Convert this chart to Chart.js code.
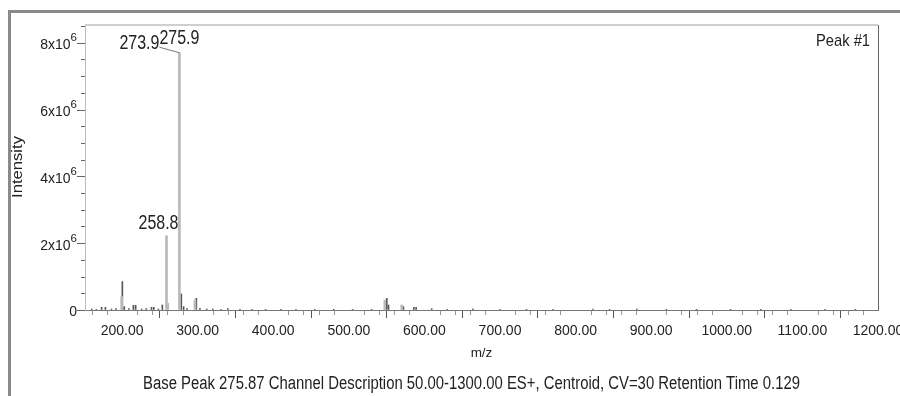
<!DOCTYPE html>
<html><head><meta charset="utf-8">
<script src="https://cdn.jsdelivr.net/npm/chart.js@4"></script>
<style>html,body{margin:0;padding:0;background:#fff;overflow:hidden}#wrap{width:900px;height:396px}</style>
</head><body><div id="wrap"><canvas id="c" width="900" height="396"></canvas></div>
<script>
// ---- data ----
const xTickValues = [200, 300, 400, 500, 600, 700, 800, 900, 1000, 1100, 1200];
const yTickValues = [0, 2e6, 4e6, 6e6, 8e6];
const yTickMantissa = ['0', '2x10', '4x10', '6x10', '8x10'];
const yTickExponent = ['', '6', '6', '6', '6'];

// main (light grey) peaks
const lightMz  = [199.5, 258.8, 260.5, 275.9, 296.5, 547.6, 570.0];
const lightInt = [0.40e6, 2.22e6, 0.20e6, 7.70e6, 0.30e6, 0.30e6, 0.15e6];

// minor (dark) peaks
const darkMz  = [160, 166, 173, 178, 186, 192, 200.4, 203, 209, 215, 218, 226, 232, 239, 242, 248, 253.3, 278.4, 281.5, 286, 298.3, 303, 312, 320, 331, 340, 356, 372, 390, 410, 430, 455, 480, 505, 530, 550.2, 552.5, 572.2, 586, 589, 609.6, 630, 664, 700, 735, 770, 823, 845, 881, 920, 960, 1005, 1045, 1085, 1130, 1170];
const darkInt = [0.03e6, 0.02e6, 0.08e6, 0.08e6, 0.03e6, 0.04e6, 0.85e6, 0.10e6, 0.04e6, 0.14e6, 0.14e6, 0.03e6, 0.04e6, 0.08e6, 0.08e6, 0.03e6, 0.15e6, 0.48e6, 0.10e6, 0.04e6, 0.35e6, 0.05e6, 0.03e6, 0.03e6, 0.02e6, 0.04e6, 0.02e6, 0.02e6, 0.02e6, 0.02e6, 0.02e6, 0.02e6, 0.02e6, 0.02e6, 0.02e6, 0.35e6, 0.15e6, 0.10e6, 0.08e6, 0.08e6, 0.04e6, 0.02e6, 0.03e6, 0.02e6, 0.02e6, 0.02e6, 0.03e6, 0.02e6, 0.03e6, 0.02e6, 0.02e6, 0.02e6, 0.02e6, 0.02e6, 0.02e6, 0.02e6];

const peakLabelText = ['275.9', '273.9', '258.8'];
const peakLabelMz   = [275.9, 275.9, 258.8];
const peakLabelInt  = [7.70e6, 7.70e6, 2.22e6];

const xAxisTitle = 'm/z';
const yAxisTitle = 'Intensity';
const cornerText = 'Peak #1';
const footerText = 'Base Peak 275.87 Channel Description 50.00-1300.00 ES+, Centroid, CV=30 Retention Time 0.129';

// ---- drawing ----
const REG = '"Liberation Sans", Arial, sans-serif';

function fillW(ctx, text, x, y, align, target) {
  const w = ctx.measureText(text).width;
  const s = target / w;
  ctx.save();
  ctx.translate(x, y); ctx.scale(s, 1);
  ctx.textAlign = align;
  ctx.fillText(text, 0, 0);
  ctx.restore();
}

const decor = {
  id: 'decor',
  beforeDraw(chart) {
    const ctx = chart.ctx;
    ctx.save();
    ctx.fillStyle = '#fff';
    ctx.fillRect(0, 0, chart.width, chart.height);
    ctx.fillStyle = '#8a8a8a';
    ctx.fillRect(8, 10, chart.width - 8, 3);
    ctx.fillRect(8, 10, 3, chart.height - 10);
    ctx.restore();
  },
  afterDraw(chart) {
    const ctx = chart.ctx, a = chart.chartArea;
    const xs = chart.scales.x, ys = chart.scales.y;
    ctx.save();
    // plot frame top & right
    ctx.strokeStyle = '#cfcfcf'; ctx.lineWidth = 2;
    ctx.beginPath(); ctx.moveTo(a.left, a.top); ctx.lineTo(a.right, a.top); ctx.stroke();
    ctx.strokeStyle = '#666'; ctx.lineWidth = 1;
    ctx.beginPath(); ctx.moveTo(a.right + 0.5, a.top); ctx.lineTo(a.right + 0.5, a.bottom); ctx.stroke();
    // x minor ticks
    ctx.strokeStyle = '#999'; ctx.lineWidth = 1;
    for (let v = 160; v < 1200; v += 20) {
      if (v % 100 === 0) continue;
      const px = Math.round(xs.getPixelForValue(v)) + 0.5;
      ctx.beginPath(); ctx.moveTo(px, a.bottom + 1); ctx.lineTo(px, a.bottom + 5); ctx.stroke();
    }
    // y ticks
    ctx.strokeStyle = '#666';
    for (let v = 0; v <= 8.5e6; v += 0.5e6) {
      const py = Math.round(ys.getPixelForValue(v)) + 0.5;
      const len = (v % 2e6 === 0) ? 8 : 4;
      ctx.beginPath(); ctx.moveTo(a.left - len, py); ctx.lineTo(a.left, py); ctx.stroke();
    }
    // y labels
    ctx.fillStyle = '#222'; ctx.textBaseline = 'middle';
    yTickValues.forEach((v, i) => {
      const py = ys.getPixelForValue(v);
      let right = a.left - 8;
      if (yTickExponent[i]) {
        ctx.font = '11.5px ' + REG; ctx.textAlign = 'right';
        ctx.fillText(yTickExponent[i], right, py - 4.5);
        right -= ctx.measureText(yTickExponent[i]).width;
      }
      ctx.font = '14px ' + REG; ctx.textAlign = 'right';
      ctx.fillText(yTickMantissa[i], right, py + 2.5);
    });
    // y title
    ctx.save();
    ctx.translate(18, 167); ctx.rotate(-Math.PI / 2);
    ctx.font = '14.5px ' + REG; ctx.textBaseline = 'middle';
    fillW(ctx, yAxisTitle, 0, 0, 'center', 62);
    ctx.restore();
    // x title
    ctx.font = '13.5px ' + REG; ctx.textAlign = 'center'; ctx.textBaseline = 'middle';
    ctx.fillText(xAxisTitle, (a.left + a.right) / 2, 353);
    // footer
    ctx.font = '18px ' + REG;
    fillW(ctx, footerText, 471.5, 384, 'center', 657);
    // corner
    ctx.font = '17px ' + REG;
    fillW(ctx, cornerText, a.right - 8, 41, 'right', 54);
    // peak labels
    ctx.font = '20px ' + REG; ctx.textBaseline = 'alphabetic';
    const LW = 40;
    const p0x = xs.getPixelForValue(peakLabelMz[0]), p0y = ys.getPixelForValue(peakLabelInt[0]);
    fillW(ctx, peakLabelText[0], p0x, p0y - 8.5, 'center', LW);
    fillW(ctx, peakLabelText[1], p0x - LW / 2, p0y - 3.5, 'right', LW);
    ctx.strokeStyle = '#777'; ctx.lineWidth = 1;
    ctx.beginPath(); ctx.moveTo(p0x - LW / 2, p0y - 5.5); ctx.lineTo(p0x, p0y); ctx.stroke();
    const p2x = xs.getPixelForValue(peakLabelMz[2]), p2y = ys.getPixelForValue(peakLabelInt[2]);
    fillW(ctx, peakLabelText[2], p2x - 8, p2y - 6.5, 'center', LW);
    ctx.restore();
  }
};

new Chart(document.getElementById('c'), {
  type: 'bar',
  data: {
    datasets: [
      { data: lightMz.map((m, i) => ({ x: m, y: lightInt[i] })), backgroundColor: '#b9b9b9', barThickness: 2, grouped: false },
      { data: darkMz.map((m, i) => ({ x: m, y: darkInt[i] })), backgroundColor: '#555', barThickness: 1, grouped: false }
    ]
  },
  options: {
    responsive: false, animation: false, devicePixelRatio: 1,
    layout: { padding: { left: 0, top: 25, right: 22, bottom: 0 }, autoPadding: false },
    plugins: { legend: { display: false }, tooltip: { enabled: false }, title: { display: false } },
    scales: {
      x: {
        type: 'linear', min: 151, max: 1200, offset: false,
        afterBuildTicks: s => { s.ticks = xTickValues.map(v => ({ value: v })); },
        afterFit: s => { s.height = 86; s.paddingLeft = 0; s.paddingRight = 0; },
        grid: { drawOnChartArea: false, drawTicks: true, tickLength: 8, tickColor: '#555', tickWidth: 1 },
        border: { display: true, color: '#777', width: 1 },
        ticks: { callback: v => Number(v).toFixed(2), font: { family: REG, size: 14 }, color: '#222', padding: 5, maxRotation: 0, autoSkip: false }
      },
      y: {
        type: 'linear', min: 0, max: 8.53e6,
        afterFit: s => { s.width = 85; s.paddingTop = 0; s.paddingBottom = 0; },
        grid: { drawOnChartArea: false, drawTicks: false },
        border: { display: true, color: '#bbb', width: 1 },
        ticks: { display: false }
      }
    }
  },
  plugins: [decor]
});
</script>
</body></html>
